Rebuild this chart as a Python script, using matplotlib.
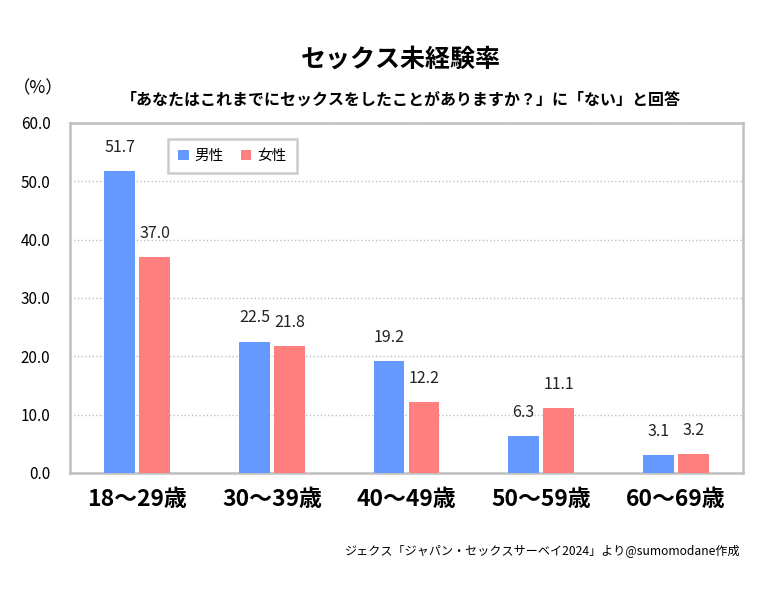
import matplotlib
matplotlib.use('Agg')
import matplotlib.pyplot as plt
import numpy as np

plt.rcParams['font.family'] = ['Noto Sans CJK JP', 'DejaVu Sans']

ages = ['18～29歳', '30～39歳', '40～49歳', '50～59歳', '60～69歳']
male = [51.7, 22.5, 19.2, 6.3, 3.1]
female = [37.0, 21.8, 12.2, 11.1, 3.2]
yticks = [0, 10, 20, 30, 40, 50, 60]

blue = '#6699FF'
pink = '#FF7F7F'

fig = plt.figure(figsize=(7.7, 6.1), dpi=100)
ax = fig.add_axes([0.0909, 0.2246, 0.874, 0.5738])

x = np.arange(len(ages))
w = 0.23
b1 = ax.bar(x - 0.13, male, w, color=blue, label='男性', zorder=3)
b2 = ax.bar(x + 0.13, female, w, color=pink, label='女性', zorder=3)

for bars, vals in ((b1, male), (b2, female)):
    for r, v in zip(bars, vals):
        ax.annotate(f'{v:.1f}', (r.get_x() + r.get_width() / 2, v),
                    xytext=(0, 11), textcoords='offset points',
                    ha='center', va='bottom', fontsize=11.5, color='#222222')

ax.set_xlim(-0.5, 4.5)
ax.set_ylim(0, 60)
ax.set_yticks(yticks)
ax.set_yticklabels([f'{t:.1f}' for t in yticks], fontsize=11)
ax.set_xticks(x)
ax.set_xticklabels(ages, fontsize=16.5, fontweight='bold')
ax.tick_params(length=0)
ax.tick_params(axis='y', pad=14)
ax.tick_params(axis='x', pad=11)
ax.grid(axis='y', color='#BFBFBF', linestyle=':', linewidth=1, zorder=0)
for s in ax.spines.values():
    s.set_color('#BFBFBF')
    s.set_linewidth(1.8)

leg = ax.legend(loc='upper left', bbox_to_anchor=(0.135, 0.975), ncol=2,
                fontsize=10.5, handlelength=0.7, handleheight=0.7,
                handletextpad=0.4, columnspacing=1.2, fancybox=False,
                borderpad=0.7)
leg.get_frame().set_edgecolor('#BFBFBF')
leg.get_frame().set_linewidth(1.8)

fig.text(0.52, 0.902, 'セックス未経験率', ha='center', va='center',
         fontsize=18, fontweight='bold')
fig.text(0.52, 0.837, '「あなたはこれまでにセックスをしたことがありますか？」に「ない」と回答',
         ha='center', va='center', fontsize=11.5, fontweight='bold')
fig.text(0.049, 0.856, '（%）', ha='center', va='center', fontsize=12.5)
fig.text(0.962, 0.098, 'ジェクス「ジャパン・セックスサーベイ2024」より@sumomodane作成',
         ha='right', va='center', fontsize=8.7)

fig.savefig('out.png', dpi=100)
